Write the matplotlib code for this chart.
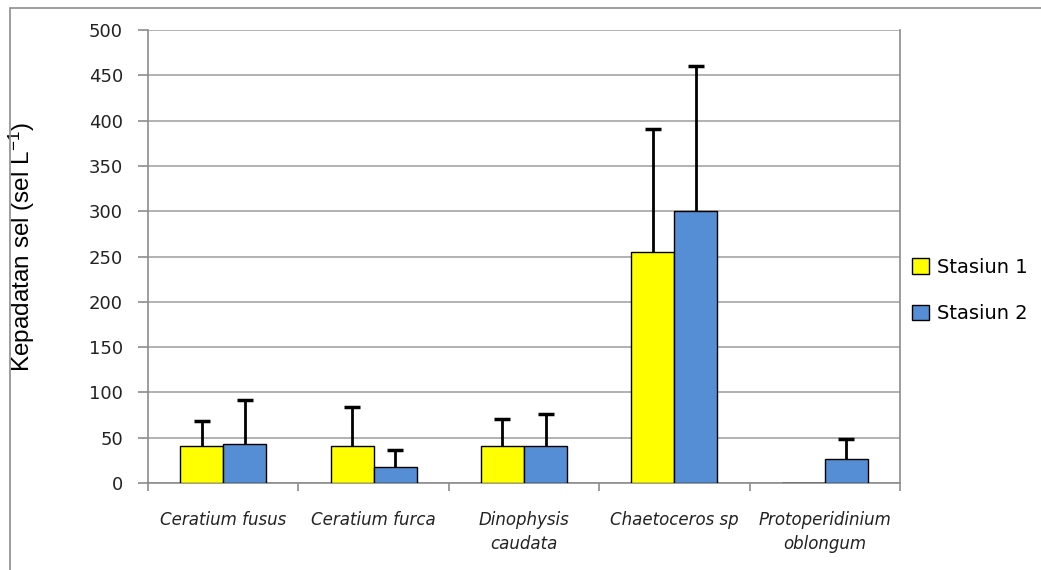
import matplotlib
matplotlib.use('Agg')
import matplotlib.pyplot as plt
import numpy as np
from matplotlib.patches import Rectangle

# Data
species = ['Ceratium fusus', 'Ceratium furca', 'Dinophysis\ncaudata',
           'Chaetoceros sp', 'Protoperidinium\noblongum']
stasiun1 = [41, 41, 41, 255, 0]
stasiun1_err = [27, 43, 30, 136, 0]
stasiun2 = [43, 18, 41, 300, 27]
stasiun2_err = [49, 18, 35, 160, 22]
yticks = [0, 50, 100, 150, 200, 250, 300, 350, 400, 450, 500]

plt.rcParams['mathtext.fontset'] = 'custom'
plt.rcParams['mathtext.rm'] = 'Liberation Sans'
plt.rcParams['mathtext.default'] = 'regular'

fig = plt.figure(figsize=(10.41, 5.70), dpi=100)
ax = fig.add_axes([148 / 1041, 87 / 570, 752 / 1041, 453 / 570])

# outer chart frame (only left and top edges visible in the picture)
fig.patches.append(Rectangle((10 / 1041, -0.1), 1.2, (570 - 8) / 570 + 0.1,
                             transform=fig.transFigure, fill=False,
                             edgecolor='#8c8c8c', linewidth=1.2))

x = np.arange(len(species))
w = 0.286


def draw_bars(pos, vals, errs, color, label):
    ax.bar(pos, vals, w, color=color, edgecolor='black', linewidth=1,
           label=label, zorder=3)
    vals = np.array(vals)
    errs = np.array(errs)
    keep = errs > 0
    # upper-only error bars: stem plus a cap at the top
    ax.vlines(pos[keep], vals[keep], vals[keep] + errs[keep], color='black',
              linewidth=2, zorder=4)
    ax.plot(pos[keep], vals[keep] + errs[keep], linestyle='none', marker='_',
            markersize=11, markeredgewidth=2.5, color='black', zorder=4)


draw_bars(x - w / 2, stasiun1, stasiun1_err, '#ffff00', 'Stasiun 1')
draw_bars(x + w / 2, stasiun2, stasiun2_err, '#558ed5', 'Stasiun 2')

ax.set_xlim(-0.5, len(species) - 0.5)
ax.set_ylim(0, 500)
ax.set_yticks(yticks)
ax.set_yticklabels([str(v) for v in yticks], fontsize=13, family='DejaVu Sans',
                   color='#222222')
ax.yaxis.grid(True, color='#a6a6a6', linewidth=1.2, zorder=0)

ax.set_xticks(x)
ax.set_xticklabels(species, fontsize=12, style='italic', family='DejaVu Sans',
                   color='#222222', linespacing=1.45)
ax.set_xticks(np.arange(-0.5, len(species)), minor=True)
ax.tick_params(axis='x', which='major', length=0, pad=20)
ax.tick_params(axis='x', which='minor', length=6, color='#8c8c8c', width=1.2)
ax.tick_params(axis='y', length=7, color='#8c8c8c', width=1.2, pad=11)

for s in ax.spines.values():
    s.set_color('#8c8c8c')
    s.set_linewidth(1.2)
ax.spines['top'].set_visible(False)

ax.set_ylabel('Kepadatan sel (sel L$^{-1}$)', fontsize=17.5, family='Liberation Sans')
ax.yaxis.set_label_coords(-0.147, 0.52)

ax.legend(loc='center left', bbox_to_anchor=(0.993, 0.425), frameon=False,
          prop={'family': 'DejaVu Sans', 'size': 14},
          handlelength=0.85, handleheight=0.85, handletextpad=0.4, labelspacing=1.4)

fig.savefig('out.png', dpi=100)
